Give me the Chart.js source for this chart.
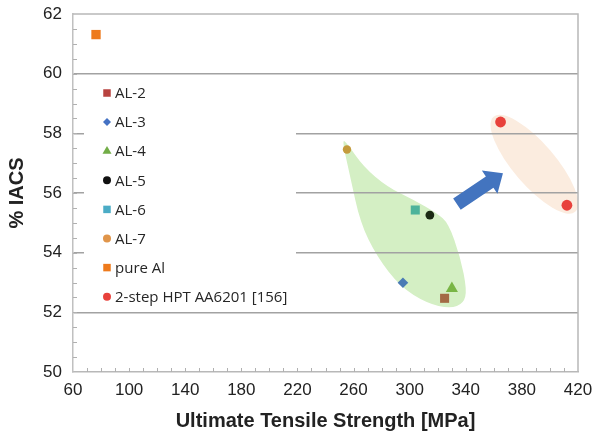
<!DOCTYPE html>
<html>
<head>
<meta charset="utf-8">
<script src="https://cdn.jsdelivr.net/npm/chart.js@4.4.1/dist/chart.umd.min.js"></script>
<style>
  html, body { margin: 0; padding: 0; background: #fff; }
  #wrap { width: 595px; height: 434px; }
</style>
</head>
<body>
<div id="wrap"><canvas id="chart" width="595" height="434"></canvas></div>
<script>
// series
const seriesNames = ['AL-2', 'AL-3', 'AL-4', 'AL-5', 'AL-6', 'AL-7', 'pure Al', '2-step HPT AA6201 [156]'];
const utsValues = [[324.9], [295.2], [330.1], [314.4], [304.0], [255.3], [76.4], [364.8, 412.1]];
const iacsValues = [[52.47], [52.99], [52.8], [55.26], [55.43], [57.46], [61.31], [58.38, 55.59]];
const pointStyles = ['rect', 'rectRot', 'triangle', 'circle', 'rect', 'circle', 'rect', 'circle'];
const pointSizes = [6.4, 5.3, 7, 4.4, 6.4, 4.2, 6.6, 5.4];
const pointColors = ['#a36a45', '#4b7bb5', '#79b545', '#1c2a14', '#4db39b', '#c49b3c', '#ee7a1c', '#e8413b'];
const legendColors = ['#b8433f', '#4472c4', '#72ad47', '#111111', '#4bacc6', '#e0954a', '#ee7a1c', '#e8413b'];

const xMin = 60, xMax = 420, xStep = 40;
const yMin = 50, yMax = 62, yStep = 2;

// shaded zones and arrow, in data units
const greenZoneX = [251.7, 257.6, 264.8, 276.7, 293.3, 312.3, 328.9, 338.4, 340.8, 336.1, 327.7, 319.4, 302.8, 283.8, 267.1, 255.3];
const greenZoneY = [57.80, 56.55, 55.00, 53.86, 52.86, 52.30, 52.13, 52.30, 52.75, 53.86, 54.98, 55.32, 55.77, 56.21, 56.88, 57.67];
const peachZoneEnds = [[359.8, 58.56], [418.0, 55.37]];
const arrowTail = [333.7, 55.63];
const arrowTip = [366.5, 56.66];

const datasets = seriesNames.map((name, i) => ({
  label: name,
  data: utsValues[i].map((x, j) => ({ x: x, y: iacsValues[i][j] })),
  pointStyle: pointStyles[i],
  pointRadius: pointSizes[i],
  backgroundColor: pointColors[i],
  borderColor: pointColors[i],
  borderWidth: 0,
  showLine: false
}));

function px(chart, x, y) {
  return [chart.scales.x.getPixelForValue(x), chart.scales.y.getPixelForValue(y)];
}

const zonesPlugin = {
  id: 'zones',
  beforeDraw(chart) {
    const ctx = chart.ctx;
    ctx.save();
    // green zone, smooth closed curve through the outline
    const pts = greenZoneX.map((x, i) => px(chart, x, greenZoneY[i]));
    const n = pts.length;
    ctx.beginPath();
    let m0 = [(pts[n - 1][0] + pts[0][0]) / 2, (pts[n - 1][1] + pts[0][1]) / 2];
    ctx.moveTo(m0[0], m0[1]);
    for (let i = 0; i < n; i++) {
      const p = pts[i], q = pts[(i + 1) % n];
      ctx.quadraticCurveTo(p[0], p[1], (p[0] + q[0]) / 2, (p[1] + q[1]) / 2);
    }
    ctx.closePath();
    ctx.fillStyle = '#d4efc4';
    ctx.fill();

    // peach ellipse
    const a = px(chart, peachZoneEnds[0][0], peachZoneEnds[0][1]);
    const b = px(chart, peachZoneEnds[1][0], peachZoneEnds[1][1]);
    const cx = (a[0] + b[0]) / 2, cy = (a[1] + b[1]) / 2;
    const half = Math.hypot(b[0] - a[0], b[1] - a[1]) / 2;
    ctx.beginPath();
    ctx.ellipse(cx, cy, half, 21, Math.atan2(b[1] - a[1], b[0] - a[0]), 0, Math.PI * 2);
    ctx.fillStyle = '#fbecdf';
    ctx.fill();
    ctx.restore();
  },
  beforeDatasetsDraw(chart) {
    const ctx = chart.ctx;
    const area = chart.chartArea;
    ctx.save();
    // minor ticks
    ctx.strokeStyle = '#b0b0b0';
    ctx.lineWidth = 1;
    for (let v = xMin + 10; v < xMax; v += 10) {
      const x = Math.round(chart.scales.x.getPixelForValue(v)) + 0.5;
      ctx.beginPath();
      ctx.moveTo(x, area.bottom);
      ctx.lineTo(x, area.bottom - 4);
      ctx.stroke();
    }
    for (let v = yMin + 0.5; v < yMax; v += 0.5) {
      const y = Math.round(chart.scales.y.getPixelForValue(v)) + 0.5;
      ctx.beginPath();
      ctx.moveTo(area.left, y);
      ctx.lineTo(area.left + 4, y);
      ctx.stroke();
    }
    // top and right frame lines
    ctx.strokeStyle = '#b8b8b8';
    ctx.lineWidth = 1.5;
    ctx.beginPath();
    ctx.moveTo(area.left, area.top);
    ctx.lineTo(area.right, area.top);
    ctx.lineTo(area.right, area.bottom);
    ctx.stroke();

    // legend box
    const lx = 84, ly = 76, lw = 212, lh = 234;
    ctx.fillStyle = '#ffffff';
    ctx.fillRect(lx, ly, lw, lh);
    ctx.font = '15px "Open Sans", sans-serif';
    ctx.textBaseline = 'middle';
    ctx.textAlign = 'left';
    chart.data.datasets.forEach((ds, i) => {
      const y = 93 + i * 29.1;
      ctx.fillStyle = legendColors[i];
      ctx.strokeStyle = legendColors[i];
      Chart.helpers.drawPoint(ctx, {
        pointStyle: ds.pointStyle,
        radius: ds.pointStyle === 'triangle' ? 5.2 : (ds.pointStyle === 'rect' ? 5.3 : 4),
        rotation: 0,
        borderWidth: 0
      }, 107, y);
      ctx.fillStyle = '#262626';
      ctx.fillText(ds.label, 115, y + 1);
    });
    ctx.restore();
  },
  afterDatasetsDraw(chart) {
    const ctx = chart.ctx;
    const t = px(chart, arrowTail[0], arrowTail[1]);
    const h = px(chart, arrowTip[0], arrowTip[1]);
    const ang = Math.atan2(h[1] - t[1], h[0] - t[0]);
    const len = Math.hypot(h[0] - t[0], h[1] - t[1]);
    const bw = 6.8, hw = 14, hl = 16;
    ctx.save();
    ctx.translate(t[0], t[1]);
    ctx.rotate(ang);
    ctx.beginPath();
    ctx.moveTo(0, -bw);
    ctx.lineTo(len - hl, -bw);
    ctx.lineTo(len - hl, -hw);
    ctx.lineTo(len, 0);
    ctx.lineTo(len - hl, hw);
    ctx.lineTo(len - hl, bw);
    ctx.lineTo(0, bw);
    ctx.closePath();
    ctx.fillStyle = '#4374bf';
    ctx.fill();
    ctx.restore();
  }
};

const tickFont = { family: '"Liberation Sans", Arial, sans-serif', size: 17 };

new Chart(document.getElementById('chart'), {
  type: 'scatter',
  data: { datasets: datasets },
  options: {
    responsive: false,
    animation: false,
    layout: { padding: { top: 14, right: 17, bottom: 0, left: 0 } },
    plugins: {
      legend: { display: false },
      tooltip: { enabled: false }
    },
    scales: {
      x: {
        type: 'linear',
        min: xMin,
        max: xMax,
        afterFit(scale) { scale.height = 62; scale.paddingLeft = 0; scale.paddingRight = 0; },
        ticks: { stepSize: xStep, color: '#222', font: tickFont, padding: 8, maxRotation: 0 },
        grid: { display: false, drawTicks: false },
        border: { display: true, color: '#b8b8b8', width: 1.5 },
        title: {
          display: true,
          text: 'Ultimate Tensile Strength [MPa]',
          color: '#222',
          font: { family: '"Liberation Sans", Arial, sans-serif', size: 20, weight: 'bold' },
          padding: { top: 0, bottom: 1 }
        }
      },
      y: {
        type: 'linear',
        min: yMin,
        max: yMax,
        afterFit(scale) { scale.width = 73; scale.paddingTop = 0; scale.paddingBottom = 0; },
        ticks: { stepSize: yStep, color: '#222', font: tickFont, padding: 11 },
        grid: {
          drawTicks: false,
          color: (c) => c.tick && (c.tick.value === yMax || c.tick.value === yMin) ? 'rgba(0,0,0,0)' : '#a2a2a2',
          lineWidth: 1.5
        },
        border: { display: true, color: '#c0c0c0', width: 1.5 },
        title: {
          display: true,
          text: '% IACS',
          color: '#222',
          font: { family: '"Liberation Sans", Arial, sans-serif', size: 20, weight: 'bold' },
          padding: { top: 5, bottom: 0 }
        }
      }
    }
  },
  plugins: [zonesPlugin]
});
</script>
</body>
</html>
